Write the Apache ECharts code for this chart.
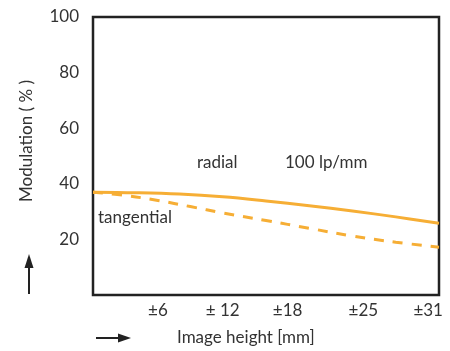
<!DOCTYPE html>
<html><head><meta charset="utf-8">
<script src="https://cdn.jsdelivr.net/npm/echarts@6/dist/echarts.min.js"></script>
<style>html,body{margin:0;padding:0;background:#fff}#c{width:450px;height:351px}</style>
</head><body><div id="c"></div>
<script>
const xTickValues = [6, 12, 18, 25, 31];
const xTickLabels = ['±6', '± 12', '±18', '±25', '±31'];
const yTickValues = [20, 40, 60, 80, 100];
const radialX = [0, 4, 8, 12, 16, 20, 24, 28, 32];
const radialY = [37, 36.8, 36.3, 35.3, 33.8, 32.1, 30.2, 28.1, 25.8];
const tangX = [0, 3, 6, 9, 12, 16, 20, 24, 28, 32];
const tangY = [37, 35.8, 34, 31.8, 29.5, 26.8, 24.0, 21.2, 19.0, 17.2];

const FONT = 'Lato';
const TXT = '#333';
const ORANGE = '#f6ae35';
const chart = echarts.init(document.getElementById('c'));
chart.setOption({
  animation: false,
  grid: {left: 93, top: 17, width: 346, height: 278, show: true, borderColor: '#222', borderWidth: 2.5, backgroundColor: 'transparent'},
  xAxis: {
    type: 'value', min: 0, max: 32,
    axisLine: {show: false}, axisTick: {show: false}, splitLine: {show: false},
    axisLabel: {
      customValues: xTickValues, color: TXT, fontFamily: FONT, fontSize: 17, margin: 7,
      formatter: v => xTickLabels[xTickValues.indexOf(v)] || ''
    }
  },
  yAxis: {
    type: 'value', min: 0, max: 100,
    axisLine: {show: false}, axisTick: {show: false}, splitLine: {show: false},
    axisLabel: {customValues: yTickValues, color: TXT, fontFamily: FONT, fontSize: 17, margin: 14}
  },
  series: [
    {type: 'line', data: radialX.map((x, i) => [x, radialY[i]]), smooth: 0.4, symbol: 'none',
     lineStyle: {color: ORANGE, width: 3}},
    {type: 'line', data: tangX.map((x, i) => [x, tangY[i]]), smooth: 0.4, symbol: 'none',
     lineStyle: {color: ORANGE, width: 3, type: [10, 9]}}
  ],
  graphic: [
    {type: 'text', x: 27, y: 141, rotation: Math.PI / 2,
     style: {text: 'Modulation ( % )', fill: TXT, font: '17px ' + FONT, align: 'center', verticalAlign: 'middle'}},
    {type: 'text', x: 197, y: 163, style: {text: 'radial', fill: TXT, font: '17px ' + FONT, verticalAlign: 'middle'}},
    {type: 'text', x: 285, y: 163, style: {text: '100 lp/mm', fill: TXT, font: '17px ' + FONT, verticalAlign: 'middle'}},
    {type: 'text', x: 98, y: 218, style: {text: 'tangential', fill: TXT, font: '17px ' + FONT, verticalAlign: 'middle'}},
    {type: 'text', x: 177, y: 338, style: {text: 'Image height [mm]', fill: TXT, font: '17px ' + FONT, verticalAlign: 'middle'}},
    {type: 'line', shape: {x1: 29, y1: 294, x2: 29, y2: 266}, style: {stroke: '#222', lineWidth: 2}},
    {type: 'polygon', shape: {points: [[29, 254], [24.5, 268], [33.5, 268]]}, style: {fill: '#222'}},
    {type: 'line', shape: {x1: 96, y1: 338, x2: 120, y2: 338}, style: {stroke: '#222', lineWidth: 2}},
    {type: 'polygon', shape: {points: [[131, 338], [118, 333.5], [118, 342.5]]}, style: {fill: '#222'}}
  ]
});
</script></body></html>
